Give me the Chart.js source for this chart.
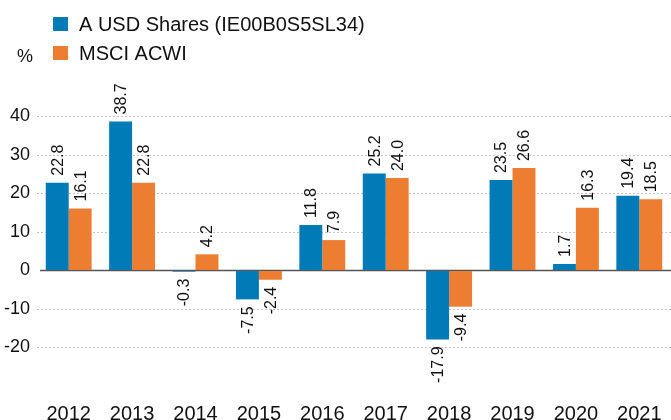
<!DOCTYPE html>
<html>
<head>
<meta charset="utf-8">
<script src="https://cdn.jsdelivr.net/npm/chart.js@4"></script>
<style>
  html, body { margin: 0; padding: 0; background: #fff; }
  #wrap { width: 671px; height: 420px; position: relative; }
</style>
</head>
<body>
<div id="wrap"><canvas id="chart" width="671" height="420"></canvas></div>
<script>
'use strict';

let years = ['2012', '2013', '2014', '2015', '2016', '2017', '2018', '2019', '2020', '2021'];
let fundValues = [22.8, 38.7, -0.3, -7.5, 11.8, 25.2, -17.9, 23.5, 1.7, 19.4];
let indexValues = [16.1, 22.8, 4.2, -2.4, 7.9, 24.0, -9.4, 26.6, 16.3, 18.5];
let seriesNames = ['A USD Shares (IE00B0S5SL34)', 'MSCI ACWI'];
let yTicks = [-20, -10, 0, 10, 20, 30, 40];

let blue = '#007bb8';
let orange = '#ed7d31';
let fontName = '"Liberation Sans", Arial, sans-serif';

// value labels, rotated, above positive bars and below negative ones
let barLabels = {
    id: 'barLabels',
    afterDatasetsDraw(chart) {
        let ctx = chart.ctx;
        ctx.save();
        ctx.font = '16px ' + fontName;
        ctx.fillStyle = '#111';
        ctx.textBaseline = 'middle';
        chart.data.datasets.forEach(function (ds, i) {
            chart.getDatasetMeta(i).data.forEach(function (bar, j) {
                let v = ds.data[j];
                ctx.save();
                ctx.translate(bar.x, bar.y);
                ctx.rotate(-Math.PI / 2);
                if (v >= 0) {
                    ctx.textAlign = 'left';
                    ctx.fillText(v.toFixed(1), 7, 1);
                } else {
                    ctx.textAlign = 'right';
                    ctx.fillText(v.toFixed(1), -7, 1);
                }
                ctx.restore();
            });
        });
        ctx.restore();
    }
};

// zero line, legend and the % unit
let extras = {
    id: 'extras',
    beforeDatasetsDraw(chart) {
        let ctx = chart.ctx;
        let y0 = chart.scales.y.getPixelForValue(0);
        ctx.save();
        ctx.strokeStyle = '#555';
        ctx.lineWidth = 1.5;
        ctx.beginPath();
        ctx.moveTo(40, y0);
        ctx.lineTo(chart.width, y0);
        ctx.stroke();
        ctx.restore();
    },
    afterDraw(chart) {
        let ctx = chart.ctx;
        ctx.save();
        let colors = [blue, orange];
        let rows = [24, 53];
        ctx.font = '20px ' + fontName;
        ctx.textBaseline = 'middle';
        ctx.textAlign = 'left';
        for (let i = 0; i < seriesNames.length; i++) {
            ctx.fillStyle = colors[i];
            ctx.fillRect(53, rows[i] - 7, 15, 14);
            ctx.fillStyle = '#111';
            ctx.fillText(seriesNames[i], 79, rows[i] + 1);
        }
        ctx.font = '18px ' + fontName;
        ctx.fillText('%', 17, 57);
        ctx.restore();
    }
};

let ctx = document.getElementById('chart').getContext('2d');
let chart = new Chart(ctx, {
    type: 'bar',
    data: {
        labels: years,
        datasets: [{
            label: seriesNames[0],
            data: fundValues,
            backgroundColor: blue
        }, {
            label: seriesNames[1],
            data: indexValues,
            backgroundColor: orange
        }]
    },
    options: {
        responsive: false,
        animation: false,
        devicePixelRatio: 1,
        layout: { padding: { top: 78, right: -2, bottom: -14, left: 0 } },
        datasets: {
            bar: { categoryPercentage: 0.724, barPercentage: 1.0 }
        },
        plugins: {
            legend: { display: false },
            tooltip: { enabled: false }
        },
        scales: {
            x: {
                grid: { display: false },
                border: { display: false },
                ticks: {
                    color: '#111',
                    font: { family: fontName, size: 20 },
                    padding: 8,
                    maxRotation: 0
                }
            },
            y: {
                min: -30,
                max: 50,
                afterFit(scale) { scale.width = 37; },
                afterBuildTicks(scale) {
                    scale.ticks = [-30].concat(yTicks, [50]).map(function (v) { return { value: v }; });
                },
                border: { display: false, dash: [2, 2] },
                grid: {
                    drawTicks: false,
                    lineWidth: 1,
                    color(c) {
                        let v = c.tick ? c.tick.value : null;
                        if (v === 0 || v === -30 || v === 50) return 'rgba(0,0,0,0)';
                        return '#c4c4c4';
                    }
                },
                ticks: {
                    color: '#111',
                    font: { family: fontName, size: 18 },
                    padding: 7,
                    callback(v) {
                        return yTicks.includes(v) ? String(v) : '';
                    }
                }
            }
        }
    },
    plugins: [barLabels, extras]
});
</script>
</body>
</html>
